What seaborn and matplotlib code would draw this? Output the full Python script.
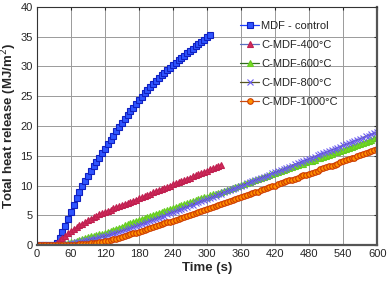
# Total heat release of MDF and carbonised MDF over time

import pandas as pd
import matplotlib.pyplot as plt
import seaborn as sns

time = list(range(0, 605, 5))

mdf_control = [0, 0, 0, 0, 0, 0, 0.05, 0.3, 1.2, 2.2, 3.2, 4.4, 5.6, 6.8, 7.9, 8.9,
               9.9, 10.8, 11.6, 12.4, 13.2, 14.0, 14.7, 15.4, 16.1, 16.9, 17.6, 18.4,
               19.1, 19.8, 20.5, 21.2, 21.8, 22.5, 23.1, 23.7, 24.3, 24.9, 25.5, 26.0,
               26.5, 27.0, 27.5, 28.0, 28.5, 28.9, 29.4, 29.8, 30.2, 30.6, 31.0, 31.4,
               31.8, 32.2, 32.6, 33.0, 33.4, 33.8, 34.1, 34.5, 34.9, 35.2]

c_mdf_400 = [0, 0, 0, 0, 0, 0, 0, 0.3, 0.8, 1.2, 1.6, 1.95, 2.3, 2.65, 3.0, 3.3, 3.6,
             3.9, 4.2, 4.45, 4.7, 4.95, 5.15, 5.35, 5.55, 5.75, 5.95, 6.15, 6.35, 6.55,
             6.75, 6.95, 7.1, 7.3, 7.45, 7.65, 7.85, 8.05, 8.25, 8.45, 8.65, 8.85, 9.05,
             9.25, 9.45, 9.6, 9.8, 10.0, 10.2, 10.4, 10.6, 10.8, 10.95, 11.15, 11.35,
             11.55, 11.75, 11.95, 12.1, 12.3, 12.5, 12.7, 12.9, 13.05, 13.25, 13.45]

c_mdf_600 = [0, 0, 0, 0, 0, 0, 0, 0, 0, 0.05, 0.15, 0.3, 0.45, 0.6, 0.75, 0.9, 1.05,
             1.2, 1.35, 1.5, 1.6, 1.7, 1.8, 1.9, 2.0, 2.2, 2.4, 2.55, 2.75, 2.9, 3.1,
             3.3, 3.5, 3.65, 3.85, 4.0, 4.2, 4.35, 4.55, 4.7, 4.9, 5.05, 5.25, 5.4,
             5.55, 5.75, 5.9, 6.05, 6.2, 6.4, 6.55, 6.7, 6.85, 7.05, 7.2, 7.35, 7.5,
             7.7, 7.85, 8.0, 8.15, 8.35, 8.5, 8.65, 8.8, 8.95, 9.1, 9.3, 9.45, 9.6,
             9.75, 9.9, 10.05, 10.25, 10.4, 10.55, 10.7, 10.9, 11.05, 11.25, 11.4,
             11.6, 11.75, 11.9, 12.05, 12.25, 12.4, 12.55, 12.7, 12.9, 13.05, 13.25,
             13.4, 13.55, 13.7, 13.9, 14.05, 14.2, 14.35, 14.55, 14.7, 14.85, 15.0,
             15.2, 15.35, 15.55, 15.7, 15.85, 16.0, 16.2, 16.35, 16.55, 16.7, 16.85,
             17.0, 17.2, 17.35, 17.55, 17.7, 17.9, 18.05]

c_mdf_800 = [0, 0, 0, 0, 0, 0, 0, 0, 0, 0.05, 0.1, 0.2, 0.3, 0.4, 0.5, 0.6, 0.7, 0.8,
             0.9, 1.0, 1.1, 1.2, 1.3, 1.45, 1.55, 1.7, 1.8, 1.95, 2.1, 2.25, 2.4, 2.55,
             2.7, 2.85, 3.0, 3.2, 3.35, 3.55, 3.7, 3.9, 4.05, 4.25, 4.4, 4.6, 4.8,
             4.95, 5.15, 5.35, 5.55, 5.7, 5.9, 6.1, 6.3, 6.45, 6.65, 6.8, 7.0, 7.2,
             7.4, 7.55, 7.75, 7.9, 8.1, 8.3, 8.5, 8.65, 8.85, 9.05, 9.25, 9.4, 9.6,
             9.8, 10.0, 10.15, 10.35, 10.55, 10.75, 10.9, 11.1, 11.3, 11.5, 11.65,
             11.85, 12.05, 12.25, 12.4, 12.6, 12.8, 13.0, 13.15, 13.35, 13.55, 13.75,
             13.9, 14.1, 14.3, 14.5, 14.65, 14.85, 15.05, 15.25, 15.4, 15.6, 15.8,
             16.0, 16.15, 16.35, 16.55, 16.75, 16.9, 17.1, 17.3, 17.5, 17.65, 17.85,
             18.05, 18.25, 18.4, 18.6, 18.8, 19.0]

c_mdf_1000 = [0, 0, 0, 0, 0, 0, 0, 0, 0, 0, 0, 0, 0.05, 0.08, 0.1, 0.12, 0.15, 0.2,
              0.25, 0.3, 0.35, 0.42, 0.5, 0.58, 0.65, 0.75, 0.85, 0.98, 1.1, 1.22,
              1.35, 1.5, 1.65, 1.8, 1.95, 2.1, 2.25, 2.4, 2.55, 2.7, 2.85, 3.0, 3.15,
              3.32, 3.5, 3.65, 3.8, 3.95, 4.1, 4.28, 4.45, 4.6, 4.75, 4.92, 5.1, 5.25,
              5.4, 5.58, 5.75, 5.9, 6.05, 6.22, 6.4, 6.55, 6.7, 6.88, 7.05, 7.2, 7.35,
              7.52, 7.7, 7.85, 8.0, 8.18, 8.35, 8.52, 8.7, 8.85, 9.0, 9.18, 9.35, 9.52,
              9.7, 9.85, 10.0, 10.18, 10.35, 10.52, 10.7, 10.85, 11.0, 11.18, 11.35,
              11.52, 11.7, 11.85, 12.0, 12.18, 12.35, 12.52, 12.7, 12.88, 13.05, 13.2,
              13.35, 13.52, 13.7, 13.88, 14.05, 14.22, 14.4, 14.55, 14.7, 14.88, 15.05,
              15.22, 15.4, 15.58, 15.75, 15.92, 16.1]

labels = ["MDF - control", "C-MDF-400\u00b0C", "C-MDF-600\u00b0C",
          "C-MDF-800\u00b0C", "C-MDF-1000\u00b0C"]

sns.set_style("white")
plt.rcParams['font.family'] = ['Liberation Sans', 'DejaVu Sans']

fig, ax = plt.subplots(figsize=(3.88, 2.87), dpi=100)
fig.subplots_adjust(left=0.095, right=0.972, bottom=0.146, top=0.976)

# (values, line colour, marker, face colour, edge colour, marker size)
styles = [
    (mdf_control, "#1a3cff", "s", "#2f55ff", "#1020c0", 4.4),
    (c_mdf_400, "#5a6fc0", "^", "#d02a5a", "#c02050", 4.4),
    (c_mdf_600, "#2f6b1e", "^", "#77dd22", "#66cc22", 4.4),
    (c_mdf_800, "#555522", "x", "#6a5cf0", "#6a5cf0", 4.2),
    (c_mdf_1000, "#cc4a10", "o", "#ff9000", "#cc3a00", 4.0),
]

for label, (vals, lc, mk, fc, ec, ms) in zip(labels, styles):
    sns.lineplot(x=time[:len(vals)], y=vals, ax=ax, color=lc, linewidth=0.9,
                 marker=mk, markersize=ms, markerfacecolor=fc, markeredgecolor=ec,
                 markeredgewidth=0.8, label=label)

ax.set_xlim(0, 600)
ax.set_ylim(0, 40)
ax.set_xticks(range(0, 601, 60))
ax.set_yticks(range(0, 41, 5))
ax.grid(True, color="#9a9a9a", linewidth=0.7)
ax.tick_params(direction="in", length=2.5, labelsize=8, top=True, right=True, pad=3)
for side in ["top", "left"]:
    ax.spines[side].set_linewidth(0.8)
    ax.spines[side].set_color("#333333")
for side in ["bottom", "right"]:
    ax.spines[side].set_linewidth(1.6)
    ax.spines[side].set_color("#555555")

ax.set_xlabel("Time (s)", fontsize=9.5, fontweight="bold", labelpad=2)
ax.set_ylabel("Total heat release (MJ/m$^2$)", fontsize=9.5, fontweight="bold", labelpad=1)

ax.legend(loc="upper left", bbox_to_anchor=(0.575, 0.975), frameon=False, fontsize=8,
          handlelength=1.7, handletextpad=0.2, labelspacing=0.82, borderaxespad=0.3)

plt.savefig("out.png", dpi=100)
plt.close()
